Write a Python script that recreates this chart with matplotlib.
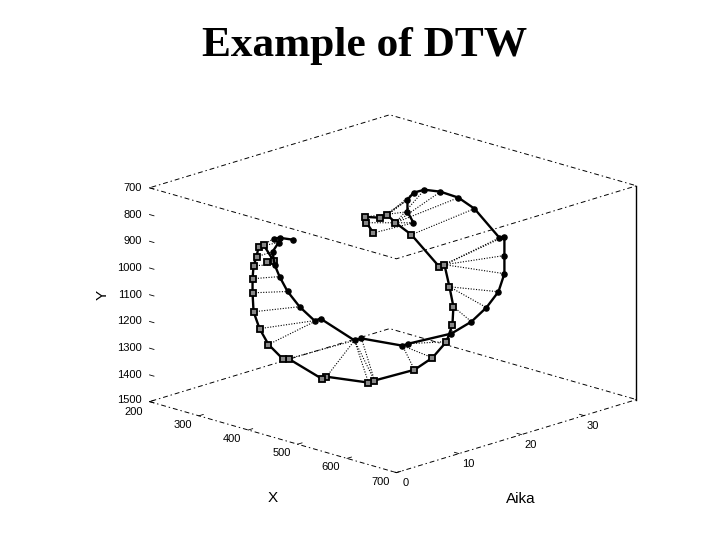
import matplotlib
matplotlib.use("Agg")
import matplotlib.pyplot as plt
from mpl_toolkits.mplot3d import proj3d

title = "Example of DTW"
x_label = "X"
y_label = "Y"
aika_label = "Aika"

x_ticks = [200, 300, 400, 500, 600, 700]
aika_ticks = [0, 10, 20, 30]
y_ticks = [700, 800, 900, 1000, 1100, 1200, 1300, 1400, 1500]
x_range = (200, 700)
aika_range = (0, 38.4)
y_range = (1500, 700)

# Square-marked trajectory
a_aika = [6, 8, 9.5, 10, 11.5, 11.7, 12, 12.2, 12.4, 12.6, 12.8, 13, 13.2, 13.4, 13.6, 13.8,
          14, 14.2, 14.4, 14.6, 14.8, 15, 15.2, 15.4, 15.6, 15.8, 16, 16.5, 16.8, 17, 17.5, 18]
a_x = [577.5, 538, 517, 541, 536, 550, 578.5, 632.7, 640.3, 647.9, 653.4, 648.9, 634.2, 603.3, 564.4, 480.9,
       466.2, 378.6, 366, 296.7, 282, 251, 230.4, 215.7, 211.1, 208.6, 208.1, 207.9, 208.1, 215.7, 229.6, 209.1]
a_y = [711, 708, 708, 702, 705, 728, 760, 853, 842, 922, 995, 1066, 1139, 1217, 1284, 1370,
       1387, 1413, 1428, 1392, 1401, 1366, 1319, 1265, 1198, 1148, 1101, 1071, 1035, 1026, 1082, 1100]

# Circle-marked trajectory
b_aika = [12, 14, 17, 20, 21, 22, 22, 22, 22, 22, 22, 22, 22, 22, 22, 22,
          22, 22, 22, 22, 22, 22, 21.5, 21, 20.5, 19.8, 19.5, 19.5, 19.5, 19.5, 19.5]
b_x = [582.6, 545.1, 507.2, 481.4, 491, 510.7, 547.1, 579.5, 630.1, 640.2, 640.2, 640.2, 628.1, 603.8, 573.4, 532.9,
       445.9, 433.7, 350.7, 336.6, 267.8, 255.6, 231.6, 213.7, 203.8, 202.5, 202.2, 214.4, 204.2, 216.4, 242.7]
b_y = [713, 706, 703, 711, 702, 706, 709, 733, 815, 805, 876, 944, 1018, 1090, 1159, 1225,
       1309, 1323, 1340, 1355, 1310, 1324, 1281, 1230, 1176, 1127, 1077, 1036, 1027, 1017, 1010]

# DTW alignment: index in the square trajectory, index in the circle trajectory
link_a = [0, 1, 2, 3, 4, 4, 5, 5, 5, 6, 7, 8, 8, 8, 9, 9, 10, 11, 12, 12, 13, 14, 15, 15, 16, 17, 19,
          21, 22, 23, 24, 25, 26, 27, 28, 29, 31]
link_b = [0, 0, 1, 2, 2, 3, 4, 5, 6, 7, 8, 9, 10, 11, 12, 13, 14, 15, 15, 16, 17, 17, 18, 19, 19, 19, 19,
          20, 21, 22, 23, 24, 25, 26, 27, 28, 25]

plt.rcParams["font.family"] = ["Liberation Sans", "DejaVu Sans"]
fig = plt.figure(figsize=(7.2, 5.4), dpi=100, facecolor="white")
ax = fig.add_axes([25.7 / 720, -31.0 / 540, 1, 1], projection="3d")
ax.set_proj_type("ortho")
ax.view_init(elev=17.2, azim=-45.8)
ax.set_box_aspect((1, 1, 0.65), zoom=0.9635)
ax.set_xlim(*x_range, view_margin=0)
ax.set_ylim(*aika_range, view_margin=0)
ax.set_zlim(*y_range, view_margin=0)
ax.set_axis_off()
ax.patch.set_alpha(0)
ax.computed_zorder = False

box_style = dict(color="black", lw=0.7, ls=(0, (5, 3, 1.5, 3)), zorder=1)
x0, x1 = x_range
t0, t1 = aika_range
for level in y_range:
    ax.plot([x0, x1, x1, x0, x0], [t0, t0, t1, t1, t0], [level] * 5, **box_style)
ax.plot([x1, x1], [t1, t1], list(y_range), color="black", lw=1.0, zorder=1)

# Alignment links
for i, j in zip(link_a, link_b):
    ax.plot([a_x[i], b_x[j]], [a_aika[i], b_aika[j]], [a_y[i], b_y[j]],
            color="black", lw=0.8, ls=(0, (1, 1.4)), zorder=2)

# Trajectories
ax.plot(a_x, a_aika, a_y, color="black", lw=1.7, marker="s", ms=3.9, mfc="#888888", mec="black", mew=1.3, zorder=3)
ax.plot(b_x, b_aika, b_y, color="black", lw=1.7, marker="o", ms=3.7, mfc="black", mec="black", zorder=3)

# Ticks
tick_style = dict(color="black", lw=0.6, zorder=1)
for v in y_ticks:
    ax.plot([x0, x0 + 9], [t0, t0], [v, v], **tick_style)
for v in x_ticks:
    ax.plot([v, v], [t0, t0 + 0.7], [y_range[0]] * 2, **tick_style)
for v in aika_ticks:
    ax.plot([x1, x1 - 9], [v, v], [y_range[0]] * 2, **tick_style)


def label_at(x, t, y, text, dx, dy, **kw):
    px, py, _ = proj3d.proj_transform(x, t, y, ax.get_proj())
    ax.annotate(text, (px, py), xytext=(dx, dy), textcoords="offset pixels",
                fontsize=8, color="black", annotation_clip=False, **kw)


for v in y_ticks:
    label_at(x0, t0, v, str(v), -8, 2 if v == 1500 else 0, ha="right", va="center")
for v in x_ticks:
    label_at(v, t0, y_range[0], str(v), -16, -10 if v == 200 else -9, ha="center", va="center")
for v in aika_ticks:
    label_at(x1, v, y_range[0], str(v), 9, -10, ha="center", va="center")

fig.text(364.5 / 720, 1 - 56 / 540, title, family=["Liberation Serif"], weight="bold",
         fontsize=31.2, ha="center", va="baseline")
fig.text(273 / 720, 1 - 498 / 540, x_label, fontsize=11, ha="center", va="center")
fig.text(521 / 720, 1 - 499 / 540, aika_label, fontsize=11, ha="center", va="center")
fig.text(103 / 720, 1 - 295 / 540, y_label, fontsize=11, ha="center", va="center", rotation=90)

fig.savefig("out.png", dpi=100)
